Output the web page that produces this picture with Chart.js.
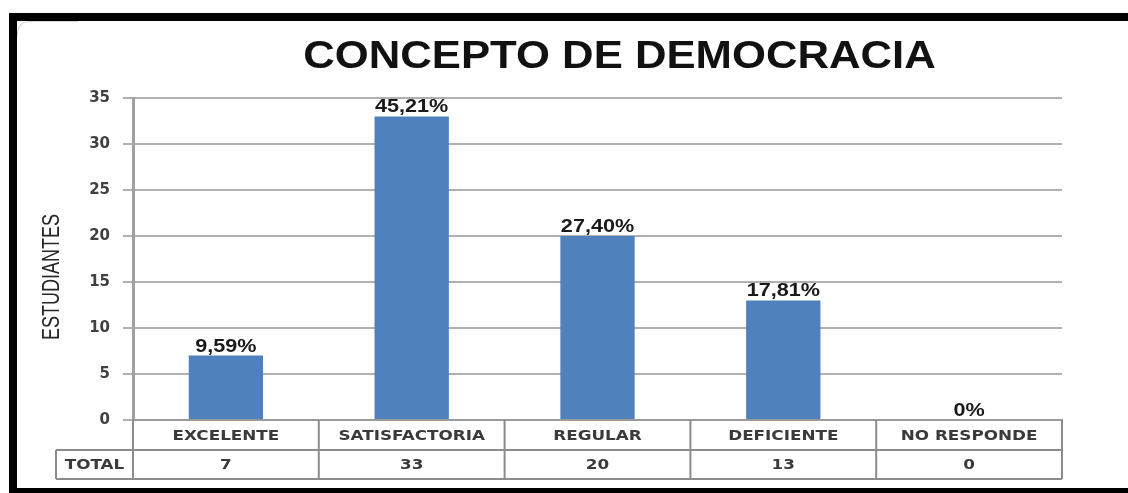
<!DOCTYPE html>
<html>
<head>
<meta charset="utf-8">
<script src="https://cdn.jsdelivr.net/npm/chart.js@4/dist/chart.umd.min.js"></script>
<style>
  html, body { margin: 0; padding: 0; background: #fff; overflow: hidden; }
  .frame {
    position: absolute; left: 9px; top: 13px; width: 1200px; height: 467px;
    border-top: 8px solid #000; border-left: 8px solid #000; border-bottom: 8px solid #000;
  }
  .inner {
    position: absolute; left: 0; top: 0; width: 60px; height: 14px;
    border-top: 1px solid #d6d6d6; border-left: 1px solid #d6d6d6; border-top-left-radius: 12px;
  }
  #wrap { position: absolute; left: 0; top: 0; width: 1128px; height: 493px; }
</style>
</head>
<body>
<div class="frame"><div class="inner"></div></div>
<div id="wrap"><canvas id="chart" width="1128" height="493"></canvas></div>
<script>
// datos
const categories = ['EXCELENTE', 'SATISFACTORIA', 'REGULAR', 'DEFICIENTE', 'NO RESPONDE'];
const students = [7, 33, 20, 13, 0];
const percentLabels = ['9,59%', '45,21%', '27,40%', '17,81%', '0%'];
const yMax = 35;
const yStep = 5;
const chartTitle = 'CONCEPTO DE DEMOCRACIA';
const yTitle = 'ESTUDIANTES';
const rowTitle = 'TOTAL';

// texto estirado en horizontal (la imagen original está ensanchada)
function stretchText(ctx, text, x, y, sx, align, baseline) {
  ctx.save();
  ctx.translate(x, y);
  ctx.scale(sx, 1);
  ctx.textAlign = align;
  ctx.textBaseline = baseline;
  ctx.fillText(text, 0, 0);
  ctx.restore();
}

// título, eje Y, etiquetas y tabla de datos
const extras = {
  id: 'extras',
  afterDatasetsDraw(chart) {
    const ctx = chart.ctx;
    const meta = chart.getDatasetMeta(0);
    ctx.save();
    ctx.fillStyle = '#1a1a1a';
    ctx.font = 'bold 18px "Liberation Sans"';
    meta.data.forEach((bar, i) => {
      stretchText(ctx, percentLabels[i], bar.x, bar.y - 4, 1.2, 'center', 'alphabetic');
    });
    ctx.restore();
  },
  afterDraw(chart) {
    const ctx = chart.ctx;
    const area = chart.chartArea;
    const xs = chart.scales.x;
    const n = categories.length;
    const slot = (area.right - area.left) / n;
    const row1 = area.bottom + 30;
    const row2 = area.bottom + 59;
    const tableLeft = area.left - 77;

    ctx.save();
    // título
    ctx.fillStyle = '#111';
    ctx.font = 'bold 39px "Liberation Sans"';
    stretchText(ctx, chartTitle, (area.left + area.right) / 2 + 22, 68, 1.12, 'center', 'alphabetic');

    // título eje Y
    ctx.save();
    ctx.translate(53, 277);
    ctx.rotate(-Math.PI / 2);
    ctx.scale(1, 1.3);
    ctx.font = '18px "Liberation Sans"';
    ctx.fillStyle = '#262626';
    ctx.textAlign = 'center';
    ctx.textBaseline = 'middle';
    ctx.fillText(yTitle, 0, 0);
    ctx.restore();

    // tabla
    ctx.strokeStyle = '#8c8c8c';
    ctx.lineWidth = 2;
    ctx.beginPath();
    for (let i = 0; i <= n; i++) {
      const x = area.left + i * slot;
      ctx.moveTo(x, area.bottom);
      ctx.lineTo(x, row2);
    }
    ctx.moveTo(tableLeft, row1); ctx.lineTo(area.right, row1);
    ctx.moveTo(tableLeft, row2); ctx.lineTo(area.right, row2);
    ctx.moveTo(tableLeft, row1); ctx.lineTo(tableLeft, row2);
    ctx.stroke();

    ctx.fillStyle = '#3a3a3a';
    ctx.font = 'bold 14px "DejaVu Sans"';
    categories.forEach((c, i) => {
      const x = xs.getPixelForValue(i);
      stretchText(ctx, c, x, (area.bottom + row1) / 2 + 1, 1.2, 'center', 'middle');
      stretchText(ctx, String(students[i]), x, (row1 + row2) / 2 + 1, 1.2, 'center', 'middle');
    });
    stretchText(ctx, rowTitle, (tableLeft + area.left) / 2, (row1 + row2) / 2 + 1, 1.2, 'center', 'middle');
    ctx.restore();
  }
};

new Chart(document.getElementById('chart'), {
  type: 'bar',
  data: {
    labels: categories,
    datasets: [{
      label: 'TOTAL',
      data: students,
      backgroundColor: '#4f81bd',
      barPercentage: 0.4,
      categoryPercentage: 1
    }]
  },
  options: {
    responsive: false,
    animation: false,
    layout: { padding: { left: 0, right: 66, top: 98, bottom: 73 } },
    plugins: {
      legend: { display: false },
      title: { display: false },
      tooltip: { enabled: false }
    },
    scales: {
      x: {
        ticks: { display: false },
        grid: { display: false },
        border: { display: true, color: '#9a9a9a', width: 2 },
        afterFit: s => { s.height = 0; }
      },
      y: {
        min: 0,
        max: yMax,
        ticks: {
          stepSize: yStep,
          padding: 13,
          color: '#404040',
          font: { family: 'DejaVu Sans', size: 15, weight: 'bold' }
        },
        grid: { color: '#b0b0b0', lineWidth: 2, tickLength: 10 },
        border: { color: '#a0a0a0', width: 3 },
        afterFit: s => { s.width = 133; }
      }
    }
  },
  plugins: [extras]
});
</script>
</body>
</html>
